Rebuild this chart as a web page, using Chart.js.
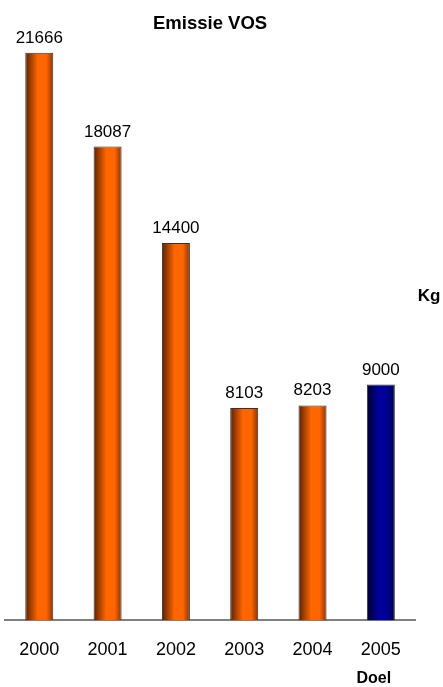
<!DOCTYPE html>
<html>
<head>
<meta charset="utf-8">
<title>Emissie VOS</title>
<script src="https://cdn.jsdelivr.net/npm/chart.js@4"></script>
<style>
  html, body { margin: 0; padding: 0; background: #fff; }
  #wrap { width: 443px; height: 687px; }
</style>
</head>
<body>
<div id="wrap"><canvas id="vos"></canvas></div>
<script>
// emissions per year, kg; 2005 is the target value
var years = ['2000', '2001', '2002', '2003', '2004', '2005'];
var emissions = [21666, 18087, 14400, 8103, 8203, 9000];
var notes = ['', '', '', '', '', 'Doel'];
var chartTitle = 'Emissie VOS';
var unitLabel = 'Kg';

var FONT = '"Liberation Sans", Arial, sans-serif';

// cylinder-ish shading across each bar
function barFill(ctx) {
  var chart = ctx.chart;
  var idx = ctx.dataIndex;
  var target = notes[idx] !== '';
  if (!chart.chartArea || !chart.scales.x) return target ? '#000080' : '#ff6600';
  var xs = chart.scales.x;
  var cx = xs.getPixelForValue(idx);
  var w = (xs.width / years.length) * 0.41;
  var g = chart.ctx.createLinearGradient(cx - w / 2, 0, cx + w / 2, 0);
  if (target) {
    g.addColorStop(0, '#000030');
    g.addColorStop(0.45, '#0000a0');
    g.addColorStop(0.75, '#000090');
    g.addColorStop(1, '#000040');
  } else {
    g.addColorStop(0, '#5a2000');
    g.addColorStop(0.45, '#ff6600');
    g.addColorStop(0.75, '#ff6600');
    g.addColorStop(1, '#8a3300');
  }
  return g;
}

var annotations = {
  id: 'annotations',
  afterDatasetsDraw: function (chart) {
    var c = chart.ctx;
    var area = chart.chartArea;
    c.save();
    c.fillStyle = '#000';
    c.textAlign = 'center';
    c.textBaseline = 'alphabetic';

    // values above the bars
    c.font = '17px ' + FONT;
    chart.getDatasetMeta(0).data.forEach(function (bar, i) {
      c.fillText(String(emissions[i]), bar.x, bar.y - 10);
    });

    // title
    c.font = 'bold 18.5px ' + FONT;
    c.fillText(chartTitle, (area.left + area.right) / 2, 29);

    // unit on the right
    c.font = 'bold 17px ' + FONT;
    c.fillText(unitLabel, area.right + 14, 301);

    // notes under the year labels
    c.font = 'bold 16px ' + FONT;
    var xs = chart.scales.x;
    notes.forEach(function (n, i) {
      if (n) c.fillText(n, xs.getPixelForValue(i) - 7, area.bottom + 63);
    });
    c.restore();
  }
};

new Chart(document.getElementById('vos'), {
  type: 'bar',
  data: {
    labels: years,
    datasets: [{
      data: emissions,
      backgroundColor: barFill,
      borderColor: '#333',
      borderWidth: 1,
      barPercentage: 0.41,
      categoryPercentage: 1
    }]
  },
  options: {
    responsive: true,
    maintainAspectRatio: false,
    animation: false,
    layout: { padding: { left: 3, right: 28, top: 44, bottom: 7 } },
    plugins: {
      legend: { display: false },
      tooltip: { enabled: false }
    },
    scales: {
      x: {
        grid: { display: false, drawTicks: false },
        border: { display: true, color: '#808080', width: 2 },
        ticks: { color: '#000', padding: 19, font: { family: FONT, size: 18 } }
      },
      y: {
        display: false,
        min: 0,
        max: 22000
      }
    }
  },
  plugins: [annotations]
});
</script>
</body>
</html>
